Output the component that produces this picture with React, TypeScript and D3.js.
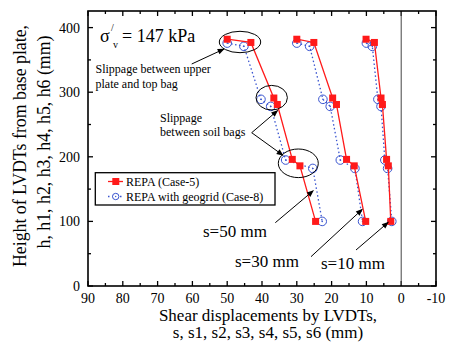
import React from "react";
import * as d3 from "d3";

const heightsRed = [382, 377, 291, 281, 196, 186, 100];
const heightsBlue = [376, 371, 289, 278, 195, 182, 100];
const red50 = [50, 43.2, 36.6, 35.6, 31.3, 29.1, 24.6];
const red30 = [30, 25.1, 19.7, 18.6, 15.7, 13.5, 10.2];
const red10 = [10.1, 7.7, 5.8, 5.4, 4.2, 3.7, 3.0];
const blue50 = [50, 45.2, 40.3, 37.5, 33.2, 25.4, 22.7];
const blue30 = [30, 26.3, 22.5, 20.4, 17.5, 13.3, 11.1];
const blue10 = [10, 8.3, 6.7, 5.8, 4.7, 3.9, 2.7];
const xTicks = [90, 80, 70, 60, 50, 40, 30, 20, 10, 0, -10];
const yTicks = [0, 100, 200, 300, 400];
const legendLabels = ["REPA (Case-5)", "REPA with geogrid (Case-8)"];

const W = 452, H = 342;
const L = 88, R = 436, T = 11, B = 286;
const FONT = "Liberation Serif";
const RED = "#ff1a1a";
const BLUE = "#3a55d0";

function Txt(props: any) {
  return <text fontFamily={FONT} fill="#000" {...props} />;
}

export default function App() {
  const x = d3.scaleLinear().domain([90, -10]).range([L, R]);
  const y = d3.scaleLinear().domain([0, 425.7]).range([B, T]);
  const line = d3.line<[number, number]>().x(d => x(d[0])).y(d => y(d[1]));

  const redSeries = [red50, red30, red10].map(s => s.map((v, i) => [v, heightsRed[i]] as [number, number]));
  const blueSeries = [blue50, blue30, blue10].map(s => s.map((v, i) => [v, heightsBlue[i]] as [number, number]));

  const xMinor = d3.range(85, -10, -10);
  const yMinor = d3.range(50, 425, 100);

  const arrow = (x1: number, y1: number, x2: number, y2: number, key: string) => (
    <line key={key} x1={x1} y1={y1} x2={x2} y2={y2} stroke="#000" strokeWidth={1} markerEnd="url(#ah)" />
  );

  return (
    <svg width={W} height={H} style={{ position: "absolute", left: 0, top: 0, background: "#fff" }}>
      <defs>
        <marker id="ah" viewBox="0 0 10 10" refX="9" refY="5" markerWidth="9" markerHeight="7" orient="auto" markerUnits="userSpaceOnUse">
          <path d="M0,1 L10,5 L0,9 z" fill="#000" />
        </marker>
      </defs>
      <rect x={0} y={0} width={W} height={H} fill="#fff" />

      {/* ticks */}
      {xTicks.map(t => (
        <g key={"xt" + t}>
          <line x1={x(t)} x2={x(t)} y1={B} y2={B - 5} stroke="#000" strokeWidth={1.3} />
          <line x1={x(t)} x2={x(t)} y1={T} y2={T + 5} stroke="#000" strokeWidth={1.3} />
          <Txt x={x(t)} y={303} fontSize={14} textAnchor="middle">{t}</Txt>
        </g>
      ))}
      {xMinor.map(t => (
        <g key={"xm" + t}>
          <line x1={x(t)} x2={x(t)} y1={B} y2={B - 3} stroke="#000" strokeWidth={1.3} />
          <line x1={x(t)} x2={x(t)} y1={T} y2={T + 3} stroke="#000" strokeWidth={1.3} />
        </g>
      ))}
      {yTicks.map(t => (
        <g key={"yt" + t}>
          <line x1={L} x2={L + 5} y1={y(t)} y2={y(t)} stroke="#000" strokeWidth={1.3} />
          <line x1={R} x2={R - 5} y1={y(t)} y2={y(t)} stroke="#000" strokeWidth={1.3} />
          <Txt x={80} y={y(t) + 5} fontSize={14} textAnchor="end">{t}</Txt>
        </g>
      ))}
      {yMinor.map(t => (
        <g key={"ym" + t}>
          <line x1={L} x2={L + 3} y1={y(t)} y2={y(t)} stroke="#000" strokeWidth={1.3} />
          <line x1={R} x2={R - 3} y1={y(t)} y2={y(t)} stroke="#000" strokeWidth={1.3} />
        </g>
      ))}

      {/* zero line */}
      <line x1={x(0)} x2={x(0)} y1={T} y2={B} stroke="#444" strokeWidth={1} />

      {/* series */}
      {blueSeries.map((s, i) => (
        <g key={"b" + i}>
          <path d={line(s) || ""} fill="none" stroke={BLUE} strokeWidth={1.3} strokeDasharray="1.5,2.5" />
          {s.map((p, j) => (
            <g key={j}>
              <circle cx={x(p[0])} cy={y(p[1])} r={4.3} fill="none" stroke={BLUE} strokeWidth={1} />
              <circle cx={x(p[0])} cy={y(p[1])} r={0.8} fill={BLUE} />
            </g>
          ))}
        </g>
      ))}
      {redSeries.map((s, i) => (
        <g key={"r" + i}>
          <path d={line(s) || ""} fill="none" stroke={RED} strokeWidth={1.3} />
          {s.map((p, j) => (
            <rect key={j} x={x(p[0]) - 3.5} y={y(p[1]) - 3.5} width={7} height={7} fill={RED} />
          ))}
        </g>
      ))}

      {/* ellipses */}
      <ellipse cx={240} cy={42} rx={20.7} ry={10.7} fill="none" stroke="#000" strokeWidth={1} />
      <ellipse cx={271.7} cy={97.7} rx={15.7} ry={12.3} fill="none" stroke="#000" strokeWidth={1} />
      <ellipse cx={298.3} cy={163.3} rx={20} ry={14.3} fill="none" stroke="#000" strokeWidth={1} />

      {/* annotations */}
      <Txt x={100} y={42} fontSize={18}>σ</Txt>
      <Txt x={111} y={31} fontSize={10}>/</Txt>
      <Txt x={113} y={48} fontSize={10}>v</Txt>
      <Txt x={122} y={42} fontSize={18}>= 147 kPa</Txt>

      <Txt x={95.5} y={73} fontSize={12}>Slippage between upper</Txt>
      <Txt x={95.5} y={88} fontSize={12}>plate and top bag</Txt>
      {arrow(191.7, 64, 224, 49, "a1")}

      <Txt x={160} y={121.5} fontSize={12}>Slippage</Txt>
      <Txt x={160} y={136} fontSize={12}>between soil bags</Txt>
      {arrow(251.7, 132.7, 277.7, 110.5, "a2")}
      {arrow(251.7, 132.7, 283, 155.3, "a3")}

      <Txt x={203} y={237} fontSize={17}>s=50 mm</Txt>
      {arrow(275.3, 222.7, 313.3, 190.7, "a4")}
      <Txt x={235} y={266.5} fontSize={17}>s=30 mm</Txt>
      {arrow(311, 256.7, 362.3, 209.3, "a5")}
      <Txt x={321} y={268.5} fontSize={17}>s=10 mm</Txt>
      {arrow(356, 250, 388.3, 222.3, "a6")}

      {/* legend */}
      <rect x={95.3} y={172.7} width={179.7} height={32.3} fill="#fff" stroke="#000" strokeWidth={1.3} />
      <line x1={108} x2={123} y1={181.5} y2={181.5} stroke={RED} strokeWidth={1.3} />
      <rect x={112.3} y={178} width={7} height={7} fill={RED} />
      <Txt x={126} y={185.7} fontSize={12}>{legendLabels[0]}</Txt>
      <line x1={108} x2={123} y1={196.5} y2={196.5} stroke={BLUE} strokeWidth={1.3} strokeDasharray="1.5,2.5" />
      <circle cx={115.7} cy={196.5} r={3.2} fill="#fff" stroke={BLUE} strokeWidth={1} />
      <circle cx={115.7} cy={196.5} r={0.7} fill={BLUE} />
      <Txt x={126} y={200.5} fontSize={12}>{legendLabels[1]}</Txt>

      {/* frame */}
      <rect x={L} y={T} width={R - L} height={B - T} fill="none" stroke="#000" strokeWidth={1.6} />

      {/* axis titles */}
      <Txt x={268} y={320.5} fontSize={17} textAnchor="middle">Shear displacements by LVDTs,</Txt>
      <Txt x={268} y={338} fontSize={17} textAnchor="middle">s, s1, s2, s3, s4, s5, s6 (mm)</Txt>
      <Txt transform="translate(26,146) rotate(-90)" fontSize={17.8} textAnchor="middle">Height of LVDTs from base plate,</Txt>
      <Txt transform="translate(50,142) rotate(-90)" fontSize={17.8} textAnchor="middle">h, h1, h2, h3, h4, h5, h6 (mm)</Txt>
    </svg>
  );
}
